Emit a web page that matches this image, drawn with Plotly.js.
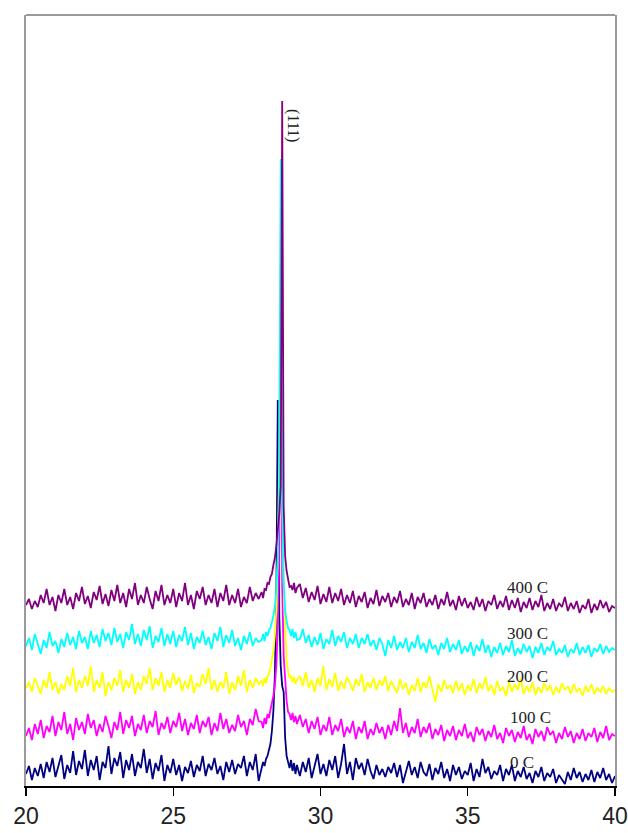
<!DOCTYPE html>
<html>
<head>
<meta charset="utf-8">
<script src="https://cdn.plot.ly/plotly-3.0.1.min.js"></script>
<style>html,body{margin:0;padding:0;background:#fff;}#chart{width:628px;height:833px;}</style>
</head>
<body>
<div id="chart"></div>
<script>
// 2-theta sampling grid (degrees)
var twoTheta = [
20.0,20.1,20.2,20.3,20.4,20.5,20.6,20.7,20.8,20.9,
21.0,21.1,21.2,21.3,21.4,21.5,21.6,21.7,21.8,21.9,
22.0,22.1,22.2,22.3,22.4,22.5,22.6,22.7,22.8,22.9,
23.0,23.1,23.2,23.3,23.4,23.5,23.6,23.7,23.8,23.9,
24.0,24.1,24.2,24.3,24.4,24.5,24.6,24.7,24.8,24.9,
25.0,25.1,25.2,25.3,25.4,25.5,25.6,25.7,25.8,25.9,
26.0,26.1,26.2,26.3,26.4,26.5,26.6,26.7,26.8,26.9,
27.0,27.1,27.2,27.3,27.4,27.5,27.6,27.7,27.8,27.9,
28.0,28.05,28.1,28.15,28.2,28.25,28.3,28.35,28.4,28.45,28.5,28.55,28.6,28.65,28.7,28.75,28.8,28.85,28.9,28.95,29.0,29.05,29.1,29.15,29.2,
29.3,29.4,29.5,29.6,29.7,29.8,29.9,30.0,30.1,30.2,
30.3,30.4,30.5,30.6,30.7,30.8,30.9,31.0,31.1,31.2,
31.3,31.4,31.5,31.6,31.7,31.8,31.9,32.0,32.1,32.2,
32.3,32.4,32.5,32.6,32.7,32.8,32.9,33.0,33.1,33.2,
33.3,33.4,33.5,33.6,33.7,33.8,33.9,34.0,34.1,34.2,
34.3,34.4,34.5,34.6,34.7,34.8,34.9,35.0,35.1,35.2,
35.3,35.4,35.5,35.6,35.7,35.8,35.9,36.0,36.1,36.2,
36.3,36.4,36.5,36.6,36.7,36.8,36.9,37.0,37.1,37.2,
37.3,37.4,37.5,37.6,37.7,37.8,37.9,38.0,38.1,38.2,
38.3,38.4,38.5,38.6,38.7,38.8,38.9,39.0,39.1,39.2,
39.3,39.4,39.5,39.6,39.7,39.8,39.9,40.0
];

// Intensities (arbitrary units, stacked as in the figure)
var int0C = [
12,20,6,18,10,22,8,24,14,28,
9,19,31,7,21,13,35,11,25,17,
36,10,26,16,30,6,24,18,40,12,
28,20,34,8,26,16,32,10,24,18,
37,13,27,7,23,15,31,5,21,13,
27,11,21,5,19,13,25,9,21,15,
30,10,22,16,28,12,20,6,24,14,
26,12,22,18,30,10,24,16,32,5,
18,24,20,27,30,36,42,55,75,110,180,386,170,120,100,94,48,30,25,18,26,15,23,12,21,
10,24,14,28,8,20,32,12,22,10,
26,16,30,8,22,42,12,24,6,28,
17,23,11,27,15,7,21,11,17,9,
19,13,23,9,21,3,15,25,11,19,
8,24,14,10,22,6,18,12,24,8,
17,5,21,11,19,7,15,11,23,5,
17,9,27,13,19,7,15,11,21,5,
17,11,21,5,15,9,19,7,13,3,
15,9,19,5,13,9,17,3,11,7,
2,14,6,18,8,14,4,12,6,16,
4,14,8,18,6,12,3,10
];
var int100C = [
50,58,46,62,52,66,48,60,54,70,
50,64,56,74,52,62,46,68,56,64,
52,72,58,66,50,62,54,70,60,48,
64,56,74,52,66,58,70,50,62,56,
71,53,65,59,75,51,63,57,69,53,
65,59,73,55,67,51,63,57,71,53,
65,59,69,51,63,55,73,57,67,53,
61,55,71,59,65,51,67,61,77,65,
64,58,68,62,72,68,76,82,90,100,120,160,240,520,200,130,100,85,74,72,66,73,64,70,62,
71,59,67,53,65,57,69,51,61,55,
69,51,61,55,67,49,59,53,65,47,
59,53,65,47,57,51,63,53,59,47,
61,51,65,55,78,53,63,49,59,53,
67,49,59,53,63,47,57,51,61,45,
56,50,60,46,56,50,62,48,54,44,
59,51,57,45,55,49,61,47,53,43,
58,50,56,44,54,48,60,46,52,42,
57,49,55,45,59,51,55,43,53,47,
59,49,55,43,53,47,57,45,53,49,
58,44,54,48,60,46,52,50
];
var int200C = [
98,104,94,108,100,92,106,98,114,96,
104,92,102,96,110,100,118,94,106,98,
110,100,120,94,106,98,114,90,104,96,
108,100,116,94,106,98,112,92,104,96,
110,102,118,96,108,100,114,94,106,98,
113,101,109,95,105,97,111,93,103,99,
112,102,118,96,106,94,104,98,114,92,
104,96,110,100,116,94,106,98,108,102,
105,100,108,103,110,112,118,125,135,150,175,230,330,560,300,200,150,125,115,108,110,104,109,102,106,
110,100,114,98,106,94,108,100,120,96,
107,99,113,95,105,97,109,103,95,107,
100,112,94,104,98,108,96,106,100,110,
95,105,99,93,107,97,103,91,101,95,
108,94,104,98,110,96,84,102,94,106,
97,101,93,105,95,103,91,101,95,107,
93,103,97,109,95,101,91,105,95,99,
90,104,94,102,96,108,92,100,94,104,
91,99,93,103,95,101,91,99,93,103,
96,100,92,102,94,98,90,100,94,102,
92,98,94,100,92,98,94,96
];
var int300C = [
140,148,136,152,142,132,146,138,154,140,
145,133,147,139,153,141,149,137,155,143,
149,137,155,143,151,139,157,145,153,141,
158,144,152,138,154,146,162,142,152,140,
156,146,160,138,150,144,158,140,152,142,
155,139,151,145,159,141,153,137,149,143,
155,141,149,137,153,145,159,139,151,143,
156,140,148,136,150,142,154,140,148,144,
146,152,145,154,150,156,158,163,170,180,195,225,300,627,290,205,175,165,158,156,150,157,148,154,146,
147,157,143,151,139,149,141,153,137,147,
142,156,140,150,144,154,138,148,142,152,
138,148,142,152,140,146,136,148,142,130,
146,138,150,136,144,138,148,134,144,138,
151,137,143,133,147,137,141,131,143,137,
148,134,142,136,146,132,140,134,144,130,
141,135,147,133,141,129,139,133,143,131,
140,134,146,130,138,132,142,134,140,128,
139,133,143,131,139,135,145,131,137,133,
141,129,137,133,143,131,139,133,141,129,
138,134,142,132,140,134,138,136
];
var int400C = [
181,187,177,185,179,191,183,197,181,189,
175,191,183,197,181,189,177,193,185,199,
182,190,178,194,186,200,182,192,180,196,
185,201,183,193,179,197,187,203,181,191,
183,199,187,177,195,185,201,181,191,183,
197,179,193,185,203,181,191,177,195,187,
199,181,191,183,197,179,193,185,201,181,
191,183,197,179,189,183,199,185,193,187,
194,188,197,196,203,202,209,212,221,228,240,255,272,300,685,280,230,215,207,199,200,196,203,193,198,
202,188,198,184,194,186,200,182,192,184,
199,183,193,185,197,181,191,183,195,179,
190,184,194,178,188,182,196,180,190,184,
193,179,189,183,195,179,187,181,193,177,
189,183,193,179,187,181,191,177,187,181,
194,180,186,176,190,180,188,178,184,176,
189,179,187,175,185,181,191,177,185,179,
190,176,186,178,188,174,184,178,188,176,
185,179,191,175,183,177,187,175,183,179,
189,175,183,177,185,173,181,177,187,173,
182,176,186,178,184,174,180,178
];

var seriesNames = ['0 C', '100 C', '200 C', '300 C', '400 C'];
var seriesData = [int0C, int100C, int200C, int300C, int400C];
var seriesColors = ['#000080', '#ff00ff', '#ffff00', '#00ffff', '#800080'];

// label anchor positions (data coords) for series labels
var labelX = [36.85, 37.12, 37.03, 37.03, 37.03];
var labelY = [24, 69, 110, 153, 199];

var traces = seriesData.map(function (ys, i) {
  return {
    x: twoTheta, y: ys, type: 'scatter', mode: 'lines', name: seriesNames[i],
    line: { color: seriesColors[i], width: 1.8 }, hoverinfo: 'skip'
  };
});

var annotations = seriesNames.map(function (n, i) {
  return {
    x: labelX[i], y: labelY[i], xref: 'x', yref: 'y', text: n, showarrow: false,
    font: { family: 'Liberation Serif, Times New Roman, serif', size: 17, color: '#222' }
  };
});
annotations.push({
  x: 29.07, y: 661, xref: 'x', yref: 'y', text: '(111)', showarrow: false, textangle: 90,
  font: { family: 'Liberation Serif, Times New Roman, serif', size: 16, color: '#222' }
});

var layout = {
  width: 628, height: 833,
  margin: { l: 26, r: 13, t: 15, b: 47 },
  paper_bgcolor: '#ffffff', plot_bgcolor: '#ffffff',
  showlegend: false,
  xaxis: {
    range: [20, 40.001], tickvals: [20, 25, 30, 35, 40], ticktext: ['20', '25', '30', '35', '40'],
    ticks: 'outside', ticklen: 8, tickwidth: 1.2, tickcolor: '#000',
    ticklabeloverflow: 'allow', ticklabelstandoff: 1,
    showline: true, linecolor: '#000', linewidth: 1.5,
    showgrid: false, zeroline: false,
    tickfont: { family: 'Liberation Sans Narrow, Liberation Sans, Arial, sans-serif', size: 23, color: '#222' }
  },
  yaxis: {
    range: [0, 771], showticklabels: false, ticks: '',
    showline: true, linecolor: '#9a9a9a', linewidth: 2, mirror: true,
    showgrid: false, zeroline: false
  },
  shapes: [{
    type: 'line', xref: 'paper', yref: 'paper', x0: 0, x1: 1, y0: 1, y1: 1,
    line: { color: '#9a9a9a', width: 2 }
  }],
  annotations: annotations
};

Plotly.newPlot('chart', traces, layout, { displayModeBar: false, staticPlot: true });
</script>
</body>
</html>
